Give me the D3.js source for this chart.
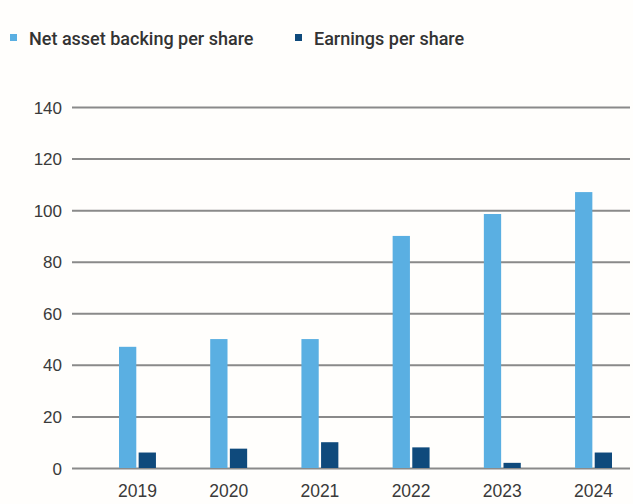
<!DOCTYPE html>
<html>
<head>
<meta charset="utf-8">
<script src="https://cdn.jsdelivr.net/npm/d3@7"></script>
<style>
  html, body { margin: 0; padding: 0; background: #fffefc; }
  svg { display: block; font-family: Roboto, "Noto Sans", sans-serif; }
</style>
</head>
<body>
<svg id="chart" width="633" height="504"></svg>
<script>
const years = ["2019", "2020", "2021", "2022", "2023", "2024"];
const seriesNames = ["Net asset backing per share", "Earnings per share"];
const netAssetBacking = [47, 50, 50, 90, 98.5, 107];
const earnings = [6, 7.5, 10, 8, 2, 6];
const yTicks = [0, 20, 40, 60, 80, 100, 120, 140];
const colors = ["#5aafe2", "#0f4a7c"];

const svg = d3.select("#chart");

const x = d3.scaleBand().domain(years).range([119, 612]).paddingInner(0.595).paddingOuter(0);
const xs = d3.scaleBand().domain(seriesNames).range([0, x.bandwidth()]).paddingInner(0.12);
const y = d3.scaleLinear().domain([0, 140]).range([468, 107]);

// gridlines + y labels via axis
const yAxis = d3.axisLeft(y).tickValues(yTicks).tickSize(-(630 - 72)).tickPadding(10).tickFormat(d3.format("d"));
const gy = svg.append("g").attr("transform", "translate(72,0)").call(yAxis);
gy.select(".domain").remove();
gy.selectAll(".tick line").attr("stroke", "#8a8a8a").attr("stroke-width", 2);
gy.selectAll(".tick text").attr("fill", "#3a3a3a").attr("font-size", 17).attr("x", -10).attr("dy", "0.36em");

// bars
const data = years.map((yr, i) => ({ year: yr, vals: [netAssetBacking[i], earnings[i]] }));
const groups = svg.append("g").selectAll("g").data(data).join("g")
  .attr("transform", d => `translate(${x(d.year)},0)`);
groups.selectAll("rect").data(d => d.vals.map((v, j) => ({ name: seriesNames[j], v, j })))
  .join("rect")
  .attr("x", d => xs(d.name))
  .attr("width", xs.bandwidth())
  .attr("y", d => y(d.v))
  .attr("height", d => y(0) - y(d.v))
  .attr("fill", d => colors[d.j]);

// x labels via axis
const xAxis = d3.axisBottom(x).tickSize(0).tickPadding(0);
const gx = svg.append("g").attr("transform", "translate(0,497)").call(xAxis);
gx.select(".domain").remove();
gx.selectAll(".tick text").attr("fill", "#3a3a3a").attr("font-size", 17.5).attr("dy", "0");

// legend
const legendX = [10, 295];
const leg = svg.append("g").selectAll("g").data(seriesNames).join("g")
  .attr("transform", (d, i) => `translate(${legendX[i]},0)`);
leg.append("rect").attr("x", 0).attr("y", 34).attr("width", 7).attr("height", 7)
  .attr("fill", (d, i) => colors[i]);
leg.append("text").attr("x", 19).attr("y", 45).attr("font-size", 18).attr("font-weight", 500)
  .attr("fill", "#333").text(d => d);
</script>
</body>
</html>
